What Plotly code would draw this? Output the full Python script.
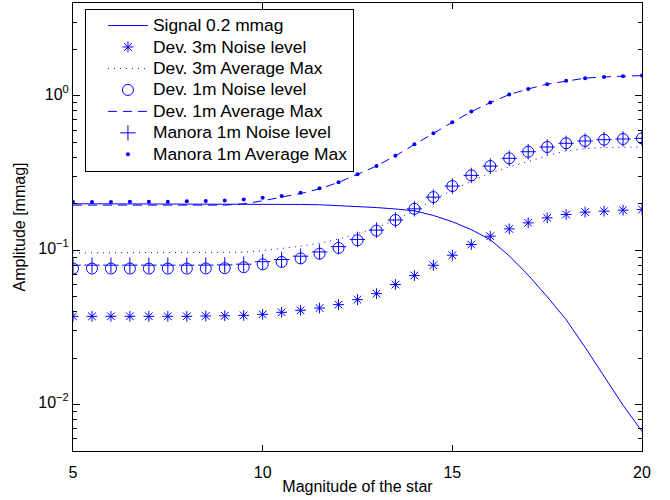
import plotly.graph_objects as go

# ---- data ----
magnitude = [5.0, 5.5, 6.0, 6.5, 7.0, 7.5, 8.0, 8.5, 9.0, 9.5, 10.0,
             10.5, 11.0, 11.5, 12.0, 12.5, 13.0, 13.5, 14.0, 14.5, 15.0,
             15.5, 16.0, 16.5, 17.0, 17.5, 18.0, 18.5, 19.0, 19.5, 20.0]

signal = [0.2, 0.2, 0.2, 0.2, 0.2, 0.2, 0.2, 0.2, 0.2, 0.2, 0.2,
          0.199, 0.198, 0.197, 0.195, 0.192, 0.189, 0.185, 0.18, 0.168, 0.153,
          0.136, 0.117, 0.092, 0.069, 0.05, 0.0355, 0.0235, 0.0152, 0.0099, 0.0067]

dev3_noise = [0.0373, 0.0373, 0.0373, 0.0373, 0.0373, 0.0373, 0.0373, 0.0375, 0.0376, 0.0378, 0.0384,
              0.0396, 0.0408, 0.0422, 0.0444, 0.0478, 0.0523, 0.0599, 0.0685, 0.0799, 0.0928,
              0.1089, 0.1233, 0.1375, 0.1504, 0.1621, 0.1705, 0.1765, 0.1791, 0.1818, 0.1837]

dev3_avgmax = [0.096, 0.096, 0.096, 0.096, 0.096, 0.096, 0.096, 0.096, 0.096, 0.097, 0.0995,
               0.1025, 0.106, 0.111, 0.118, 0.128, 0.14, 0.157, 0.18, 0.213, 0.245,
               0.28, 0.315, 0.348, 0.375, 0.41, 0.44, 0.455, 0.462, 0.465, 0.467]

dev1_noise = [0.0761, 0.0761, 0.0761, 0.0761, 0.0761, 0.0761, 0.0761, 0.0762, 0.0765, 0.0776, 0.081,
              0.084, 0.0885, 0.095, 0.1035, 0.116, 0.134, 0.157, 0.1854, 0.2209, 0.2604,
              0.3055, 0.3511, 0.3939, 0.4347, 0.4665, 0.4931, 0.5103, 0.5203, 0.5258, 0.5313]

dev1_avgmax = [0.196, 0.196, 0.196, 0.196, 0.196, 0.196, 0.196, 0.196, 0.196, 0.2, 0.209,
               0.221, 0.233, 0.25, 0.2753, 0.3103, 0.351, 0.4096, 0.4857, 0.5726, 0.6748,
               0.7909, 0.9046, 1.0196, 1.11, 1.191, 1.252, 1.303, 1.328, 1.342, 1.354]

manora_noise = [0.08, 0.08, 0.08, 0.08, 0.08, 0.08, 0.08, 0.0801, 0.0803, 0.0812, 0.0843,
                0.087, 0.0915, 0.0975, 0.1055, 0.1175, 0.135, 0.157, 0.1854, 0.2209, 0.2604,
                0.3055, 0.3511, 0.3939, 0.4347, 0.4665, 0.4931, 0.5103, 0.5203, 0.5258, 0.5313]

manora_avgmax = [0.205, 0.205, 0.205, 0.206, 0.206, 0.206, 0.208, 0.2085, 0.2103, 0.2134, 0.2186,
                 0.2243, 0.2356, 0.2517, 0.2753, 0.3103, 0.351, 0.4096, 0.4857, 0.5726, 0.6748,
                 0.7909, 0.9046, 1.0196, 1.11, 1.191, 1.252, 1.303, 1.328, 1.342, 1.354]

series_names = ["Signal 0.2 mmag", "Dev. 3m Noise level", "Dev. 3m Average Max",
                "Dev. 1m Noise level", "Dev. 1m Average Max",
                "Manora 1m Noise level", "Manora 1m Average Max"]

x_ticks = [5, 10, 15, 20]
y_ticks = [0.01, 0.1, 1]
y_ticktext = ["10<sup>\u22122</sup>", "10<sup>\u22121</sup>", "10<sup>0</sup>"]
y_minor = [0.005, 0.006, 0.007, 0.008, 0.009,
           0.02, 0.03, 0.04, 0.05, 0.06, 0.07, 0.08, 0.09,
           0.2, 0.3, 0.4, 0.5, 0.6, 0.7, 0.8, 0.9,
           2, 3, 4]

BLUE = "#0000ff"
FONT = "Liberation Sans, Arial, Helvetica, sans-serif"


def lg(name):
    return '<span style="font-size:17.4px">' + name + '</span>'


fig = go.Figure()
fig.add_trace(go.Scatter(x=magnitude, y=signal, mode="lines", name=lg(series_names[0]),
                         line=dict(color=BLUE, width=1)))
fig.add_trace(go.Scatter(x=magnitude, y=dev3_noise, mode="markers", name=lg(series_names[1]),
                         marker=dict(symbol="asterisk-open", size=9, color=BLUE,
                                     line=dict(color=BLUE, width=1))))
fig.add_trace(go.Scatter(x=magnitude, y=dev3_avgmax, mode="lines", name=lg(series_names[2]),
                         line=dict(color=BLUE, width=1, dash="1px,5px")))
fig.add_trace(go.Scatter(x=magnitude, y=dev1_noise, mode="markers", name=lg(series_names[3]),
                         marker=dict(symbol="circle-open", size=11, color=BLUE,
                                     line=dict(color=BLUE, width=1))))
fig.add_trace(go.Scatter(x=magnitude, y=dev1_avgmax, mode="lines", name=lg(series_names[4]),
                         line=dict(color=BLUE, width=1, dash="9px,6px")))
fig.add_trace(go.Scatter(x=magnitude, y=manora_noise, mode="markers", name=lg(series_names[5]),
                         marker=dict(symbol="cross-thin-open", size=11, color=BLUE,
                                     line=dict(color=BLUE, width=1))))
fig.add_trace(go.Scatter(x=magnitude, y=manora_avgmax, mode="markers", name=lg(series_names[6]),
                         marker=dict(symbol="circle", size=4, color=BLUE)))

fig.update_layout(
    width=670, height=500,
    margin=dict(l=73, r=28, t=3, b=49),
    paper_bgcolor="white", plot_bgcolor="white",
    font=dict(family=FONT, size=16, color="black"),
    showlegend=True,
    legend=dict(x=0.021, y=0.987, xanchor="left", yanchor="top",
                bgcolor="white", bordercolor="black", borderwidth=1,
                font=dict(family=FONT, size=14.2, color="black"),
                indentation=17, itemwidth=40, tracegroupgap=0),
)
fig.update_xaxes(range=[5, 20], tickvals=x_ticks, ticks="inside", ticklen=6,
                 tickcolor="black", showline=True, linecolor="black", linewidth=1,
                 mirror="ticks", showgrid=False, zeroline=False, ticklabelstandoff=7,
                 title=dict(text="Magnitude of the star", font=dict(size=16), standoff=0),
                 tickfont=dict(size=16))
fig.update_yaxes(type="log", range=[-2.301, 0.602], tickvals=y_ticks, ticktext=y_ticktext,
                 ticks="inside", ticklen=7, tickcolor="black",
                 showline=True, linecolor="black", linewidth=1, mirror="ticks",
                 showgrid=False, zeroline=False, ticklabelshift=-2,
                 minor=dict(tickvals=y_minor, ticks="inside", ticklen=4, tickcolor="black", showgrid=False),
                 title=dict(text="Amplitude [mmag]", font=dict(size=16), standoff=8),
                 tickfont=dict(size=16))

fig.write_html("out.html", config={"displayModeBar": False},
               post_script="document.body.style.margin='0px';")
